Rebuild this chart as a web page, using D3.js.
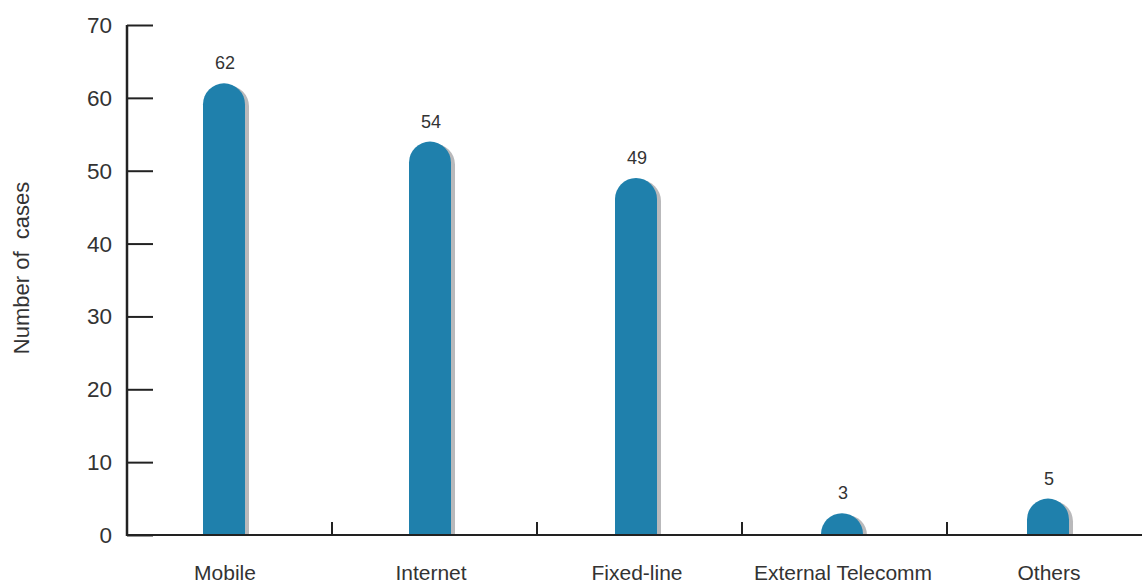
<!DOCTYPE html>
<html><head><meta charset="utf-8">
<script src="https://cdn.jsdelivr.net/npm/d3@7"></script>
<style>body{margin:0;background:#fff}svg{display:block}text{font-family:"Liberation Sans",Arial,sans-serif;fill:#333}</style>
</head><body><svg id="c" width="1142" height="585"></svg>
<script>
const categories = ["Mobile","Internet","Fixed-line","External Telecomm","Others"];
const values = [62,54,49,3,5];
const yTicks = [0,10,20,30,40,50,60,70];

const svg = d3.select("#c");
const x0 = 127, yBase = 535, yTop = 25;
// category separators
const x = d3.scaleBand().domain(categories).range([x0, 1152]).padding(0);
// bar placement
const xb = d3.scaleBand().domain(categories).range([x0 + 1, 1158]).padding(0);
const y = d3.scaleLinear().domain([0,70]).range([yBase, yTop]);
const bw = 42, r = 21;
const barX = c => xb(c) + 75;

function barPath(x1, v, dx, dy){
  const top = y(v) + dy, bottom = yBase;
  const h = bottom - top;
  const rr = Math.min(r, h);
  const p = d3.path();
  p.moveTo(x1+dx, bottom);
  p.lineTo(x1+dx, top+rr);
  p.arcTo(x1+dx, top, x1+dx+rr, top, rr);
  p.lineTo(x1+dx+bw-rr, top);
  p.arcTo(x1+dx+bw, top, x1+dx+bw, top+rr, rr);
  p.lineTo(x1+dx+bw, bottom);
  p.closePath();
  return p.toString();
}
const data = categories.map((c,i)=>({c, v:values[i]}));

svg.append("g").selectAll("path").data(data).join("path")
  .attr("d", d => barPath(barX(d.c), d.v, 4, 2)).attr("fill","#b9b9bb");
svg.append("g").selectAll("path").data(data).join("path")
  .attr("d", d => barPath(barX(d.c), d.v, 0, 0)).attr("fill","#1f80ac");

svg.append("g").selectAll("text").data(data).join("text")
  .attr("x", d => barX(d.c) + bw/2 + 1).attr("y", d => y(d.v) - 14)
  .attr("text-anchor","middle").attr("font-size",18).text(d => d.v);

const yAxis = d3.axisRight(y).tickValues(yTicks).tickSize(26).tickFormat("");
const gy = svg.append("g").attr("transform",`translate(${x0},0)`).call(yAxis);
gy.select(".domain").remove();
gy.selectAll(".tick line").attr("stroke","#222").attr("stroke-width",2);
svg.append("line").attr("x1",x0).attr("x2",x0).attr("y1",yTop).attr("y2",yBase+1).attr("stroke","#222").attr("stroke-width",2.5);
svg.append("g").selectAll("text").data(yTicks).join("text")
  .attr("x",112).attr("y",d=>y(d)+8).attr("text-anchor","end").attr("font-size",22.5).text(d=>d);

svg.append("line").attr("x1",x0).attr("x2",1142).attr("y1",yBase).attr("y2",yBase).attr("stroke","#222").attr("stroke-width",2);
svg.append("g").selectAll("line").data(categories.slice(1)).join("line")
  .attr("x1",d=>x(d)).attr("x2",d=>x(d)).attr("y1",yBase-13).attr("y2",yBase).attr("stroke","#222").attr("stroke-width",2);
svg.append("g").selectAll("text").data(categories).join("text")
  .attr("x", d => barX(d) + bw/2 + 1).attr("y", 580)
  .attr("text-anchor","middle").attr("font-size",21).text(d=>d);

svg.append("text").attr("transform","translate(29,268) rotate(-90)")
  .style("white-space","pre")
  .attr("text-anchor","middle").attr("font-size",22).text("Number of  cases");
</script></body></html>
